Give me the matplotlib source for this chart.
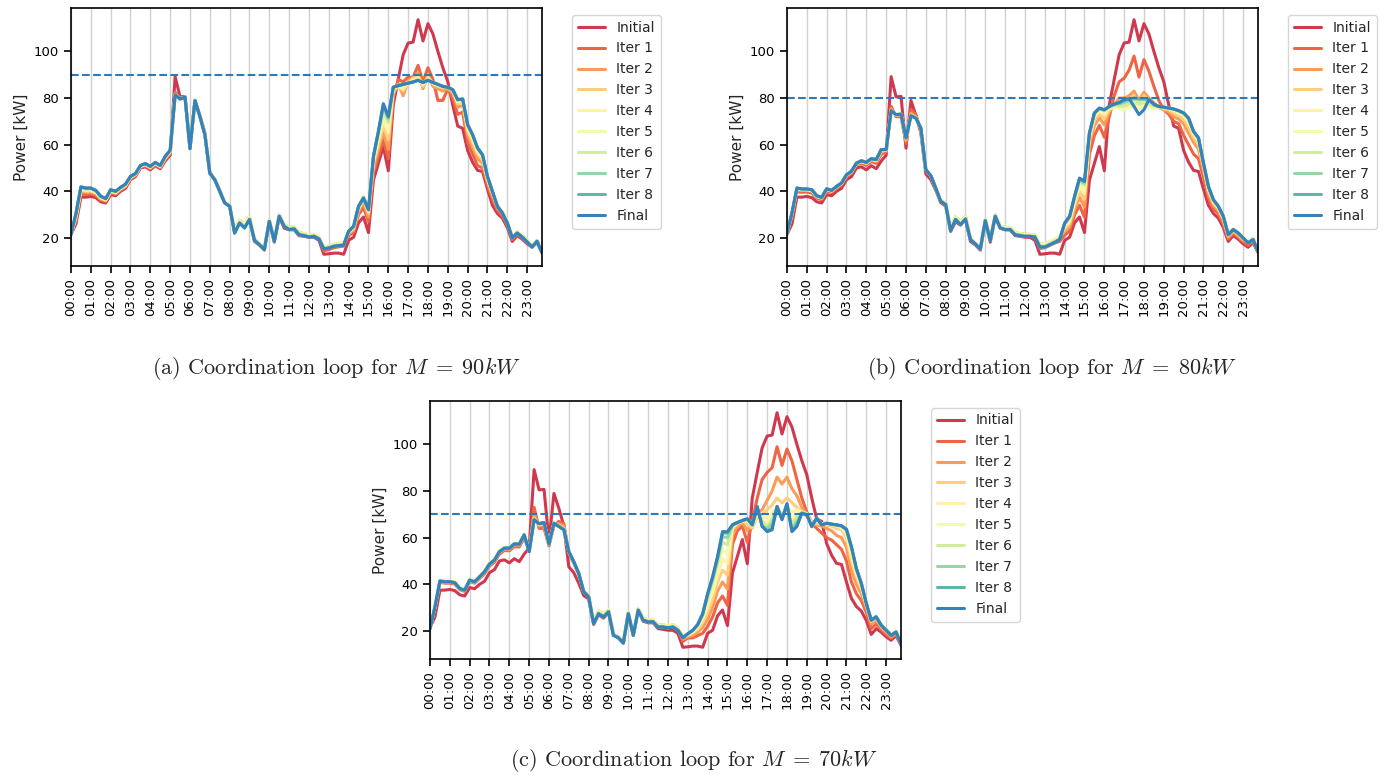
import numpy as np
import matplotlib.pyplot as plt
import seaborn as sns

sns.set_style("ticks")
plt.rcParams["font.family"] = ["DejaVu Sans"]
plt.rcParams["mathtext.fontset"] = "cm"

# 15-minute load profile before coordination (same for every limit)
initial = [
    21.5, 26, 37.5, 37.5, 37.8, 37.3, 35.5, 35, 38.6, 38.1, 40, 41.3, 45, 46.3, 50, 50.5, 49.2, 51, 49.7, 53, 55.5,
    89.2, 80.5, 80.7, 58.5, 79, 72.5, 65,
    47.5, 45, 40.5, 35.2, 33.7, 22.8, 27, 25.5, 28, 18.5, 17, 14.8, 27.3, 18.2, 29, 24.2, 23.5, 23.5, 21, 20.7, 20.3, 20.3, 19,
    13, 13.2, 13.5, 13.5, 13, 19, 20.3, 26.5, 29, 22.3, 44.8, 52, 59.2, 48.8,
    77, 88, 98.6, 103.6, 104, 113.6, 104.5, 111.9, 107.5, 100, 93, 87, 77, 68, 67, 57.5, 52.5, 49, 48.5, 41,
    34, 30.5, 28.5, 24.5, 18.5, 21, 19.5, 17.5,
    16, 18, 13.8,
]

# ---- M = 90 kW ----
final_90 = [
    21.5, 30.5, 41.9, 41.4, 41.4, 40.4, 37.9, 36.9, 40.7, 40, 41.7, 43.1, 46.4, 47.6, 51.1, 51.9, 50.7, 52.4, 51.1, 55, 57.6,
    81.4, 79.6, 80.4, 58.3, 78.9, 72.1, 64.3,
    47.9, 45, 40, 35, 33.6, 22.1, 26.4, 24.3, 27.9, 19, 17.1, 15, 27.1, 18.6, 29.3, 25, 23.6, 23.9, 21.4, 21, 20.4, 20.7, 19.6,
    15.3, 15.7, 16.4, 16.7, 16.9, 22.9, 25, 33.6, 37.1, 32.1, 55, 65.7, 77.6, 72.1,
    84.7, 85.3, 85.9, 86.4, 86.9, 87.6, 86.7, 87.6, 86.7, 85.9, 85, 84.6, 83.6, 79.3, 79.6, 68.6, 64.3, 58.6, 55.7, 46.4,
    40, 33.6, 30.7, 26.4, 20, 22.1, 20.4, 18.3,
    16.1, 18.6, 13.6,
]
iters_90 = [
    [21.5, 27.4, 38.8, 38.7, 38.9, 38.2, 36.2, 35.6, 39.2, 38.7, 40.5, 41.8, 45.4, 46.7, 50.3, 50.9, 49.6, 51.4, 50.1, 53.6, 56.1,
     82.5, 80, 80.5, 58.4, 79, 72.3, 64.7,
     47.9, 45, 40, 35.3, 33.9, 23.1, 27.6, 25.5, 28.9, 19.5, 17.4, 15.3, 27.6, 18.9, 29.8, 25.8, 24.4, 24.7, 22.2, 21.8, 21.2, 21.5, 20.4,
     14.5, 15, 15.8, 16.2, 16.5, 21, 22.5, 30, 33, 27, 48, 55, 62, 54,
     80, 88, 87, 89, 89, 94, 87, 93, 88, 79, 79, 84, 80, 73, 74, 61, 56, 51, 50, 42.5,
     36.5, 32, 29.5, 25.5, 19.3, 21.7, 20, 18,
     16.3, 18.8, 13.8],
    [21.5, 28.3, 39.7, 39.5, 39.6, 38.9, 36.7, 36, 39.7, 39.1, 40.9, 42.2, 45.7, 47, 50.6, 51.2, 50, 51.7, 50.4, 54, 56.6,
     81.8, 79.8, 80.4, 58.3, 78.9, 72.2, 64.5,
     47.9, 45, 40, 35.3, 33.9, 23.1, 27.6, 25.5, 28.9, 19.5, 17.4, 15.3, 27.6, 18.9, 29.8, 25.8, 24.4, 24.7, 22.2, 21.8, 21.2, 21.5, 20.4,
     16, 16.5, 17.2, 17.5, 17.7, 21.8, 23.3, 31.5, 35, 29, 50, 58, 65, 58,
     82, 86, 81, 87, 89, 91, 84, 90, 85, 84, 83, 84, 82, 76, 77, 64, 59, 54, 52, 44,
     38, 33, 30.5, 26.5, 20.2, 22.5, 20.8, 18.8,
     16.3, 18.8, 13.8],
    [21.5, 28.9, 40.4, 40, 40.1, 39.3, 37.1, 36.2, 40, 39.3, 41.1, 42.5, 45.9, 47.1, 50.7, 51.4, 50.2, 51.9, 50.6, 54.3, 56.9,
     81.4, 79.6, 80.4, 58.3, 78.9, 72.1, 64.3,
     47.9, 45, 40, 35.3, 33.9, 23.1, 27.6, 25.5, 28.9, 19.5, 17.4, 15.3, 27.6, 18.9, 29.8, 25.8, 24.4, 24.7, 22.2, 21.8, 21.2, 21.5, 20.4,
     16, 16.5, 17.2, 17.5, 17.7, 22.3, 24, 32.3, 36.5, 30.5, 52, 60, 68, 62,
     83, 85, 83, 86.5, 88.5, 89.5, 85, 89, 86, 85, 84.5, 84.5, 83, 77.5, 78, 66, 61, 56, 53.5, 45,
     39.5, 33.9, 31.2, 27, 20.5, 22.7, 21, 18.9,
     16.3, 18.8, 13.8],
    [21.5, 29.4, 40.8, 40.4, 40.5, 39.6, 37.3, 36.4, 40.2, 39.5, 41.3, 42.6, 46.1, 47.3, 50.8, 51.6, 50.3, 52, 50.8, 54.5, 57.1,
     81.4, 79.6, 80.4, 58.3, 78.9, 72.1, 64.3,
     47.9, 45, 40, 35.3, 33.9, 23.1, 27.6, 25.5, 28.9, 19.5, 17.4, 15.3, 27.6, 18.9, 29.8, 25.8, 24.4, 24.7, 22.2, 21.8, 21.2, 21.5, 20.4,
     16, 16.5, 17.2, 17.5, 17.7, 22.6, 24.5, 33, 37.5, 31.3, 53, 62, 70.5, 65,
     84, 85, 84, 86.3, 87.8, 88.7, 85.7, 88.5, 86.3, 85.5, 84.8, 84.6, 83.3, 78.3, 78.8, 67, 62.5, 57, 54.5, 45.7,
     39.5, 33.9, 31.2, 27, 20.5, 22.7, 21, 18.9,
     16.3, 18.8, 13.8],
    [21.5, 29.8, 41.2, 40.8, 40.9, 39.9, 37.5, 36.6, 40.4, 39.7, 41.4, 42.8, 46.2, 47.4, 50.9, 51.7, 50.5, 52.2, 50.9, 54.7, 57.3,
     81.4, 79.6, 80.4, 58.3, 78.9, 72.1, 64.3,
     47.9, 45, 40, 35.3, 33.9, 23.1, 27.6, 25.5, 28.9, 19.5, 17.4, 15.3, 27.6, 18.9, 29.8, 25.8, 24.4, 24.7, 22.2, 21.8, 21.2, 21.5, 20.4,
     16, 16.5, 17.2, 17.5, 17.7, 22.8, 24.8, 33.5, 37.8, 31.8, 54, 63.5, 72.5, 67.5,
     84.3, 85.2, 85, 86.3, 87.3, 88.2, 86.2, 88.1, 86.5, 85.7, 84.9, 84.6, 83.5, 78.8, 79.2, 67.8, 63.3, 57.8, 55, 46,
     39.5, 33.9, 31.2, 27, 20.5, 22.7, 21, 18.9,
     16.3, 18.8, 13.8],
    [21.5, 30, 41.5, 41, 41.1, 40.1, 37.7, 36.7, 40.5, 39.8, 41.5, 42.9, 46.3, 47.5, 51, 51.8, 50.6, 52.3, 51, 54.8, 57.4,
     81.4, 79.6, 80.4, 58.3, 78.9, 72.1, 64.3,
     47.9, 45, 40, 35.2, 33.8, 22.6, 27, 24.9, 28.4, 19.3, 17.3, 15.2, 27.4, 18.8, 29.6, 25.4, 24, 24.3, 21.8, 21.4, 20.8, 21.1, 20,
     15.7, 16.1, 16.8, 17.1, 17.3, 22.9, 25, 33.6, 37.6, 32, 54.5, 64.5, 74.5, 69.5,
     84.5, 85.3, 85.5, 86.4, 87, 87.9, 86.5, 87.8, 86.6, 85.8, 85, 84.6, 83.6, 79.1, 79.4, 68.2, 63.8, 58.2, 55.4, 46.2,
     39.8, 33.8, 31, 26.7, 20.3, 22.4, 20.7, 18.6,
     16.1, 18.6, 13.6],
    [21.5, 30.3, 41.7, 41.2, 41.2, 40.2, 37.8, 36.8, 40.6, 39.9, 41.6, 43, 46.4, 47.6, 51, 51.8, 50.6, 52.3, 51, 54.9, 57.5,
     81.4, 79.6, 80.4, 58.3, 78.9, 72.1, 64.3,
     47.9, 45, 40, 35, 33.6, 22.1, 26.4, 24.3, 27.9, 19, 17.1, 15, 27.1, 18.6, 29.3, 25, 23.6, 23.9, 21.4, 21, 20.4, 20.7, 19.6,
     15.3, 15.7, 16.4, 16.7, 16.9, 22.9, 25, 33.6, 37.3, 32.1, 54.8, 65.2, 76, 71,
     84.6, 85.3, 85.8, 86.4, 86.9, 87.7, 86.6, 87.7, 86.7, 85.9, 85, 84.6, 83.6, 79.3, 79.6, 68.5, 64.1, 58.5, 55.6, 46.4,
     40, 33.6, 30.7, 26.4, 20, 22.1, 20.4, 18.3,
     16.1, 18.6, 13.6],
    [21.5, 30.5, 41.9, 41.4, 41.4, 40.4, 37.9, 36.9, 40.7, 40, 41.7, 43.1, 46.4, 47.6, 51.1, 51.9, 50.7, 52.4, 51.1, 55, 57.6,
     81.4, 79.6, 80.4, 58.3, 78.9, 72.1, 64.3,
     47.9, 45, 40, 35, 33.6, 22.1, 26.4, 24.3, 27.9, 19, 17.1, 15, 27.1, 18.6, 29.3, 25, 23.6, 23.9, 21.4, 21, 20.4, 20.7, 19.6,
     15.3, 15.7, 16.4, 16.7, 16.9, 22.9, 25, 33.6, 37.1, 32.1, 55, 65.6, 77.2, 71.8,
     84.7, 85.3, 85.9, 86.4, 86.9, 87.6, 86.7, 87.6, 86.7, 85.9, 85, 84.6, 83.6, 79.3, 79.6, 68.6, 64.3, 58.6, 55.7, 46.4,
     40, 33.6, 30.7, 26.4, 20, 22.1, 20.4, 18.3,
     16.1, 18.6, 13.6],
]

# ---- M = 80 kW ----
final_80 = [
    22, 30.7, 41.4, 41, 41, 40.7, 38.1, 37.4, 41.1, 40.4, 42.1, 43.6, 47.1, 48.6, 52.1, 53.1, 52.4, 54, 53.6, 57.9, 57.9,
    74.6, 72.9, 73.1, 62.9, 72.4, 71.4, 67.1,
    49.3, 46.7, 41.4, 35.7, 34.3, 23.1, 27.9, 25.7, 28.1, 19.3, 17.4, 15.3, 27.4, 18.9, 29.3, 24.3, 23.6, 23.6, 21.4, 21, 20.7, 20.7, 20.4,
    16.1, 16.1, 17.1, 18.1, 19.3, 26.4, 29.3, 37.9, 45.7, 44.3, 65, 73.6, 75.7, 75,
    76.4, 77.4, 78.1, 79.3, 79.7, 76.4, 72.9, 75, 79.3, 77.4, 76.4, 76.1, 75.7, 75.3, 74.6, 73.6, 71.4, 65.7, 62.9, 52.1,
    42.1, 36.4, 33.6, 29.3, 21.4, 23.6, 22.1, 20,
    17.9, 19.3, 14.3,
]
iters_80 = [
    [21.8, 28.8, 39.8, 39.6, 39.7, 39.3, 37.1, 36.4, 40.1, 39.5, 41.3, 42.7, 46.3, 47.7, 51.3, 52.1, 51.1, 52.8, 52, 55.9, 56.9,
     76.5, 72, 72, 60.5, 75, 73, 66,
     49.3, 46.7, 41.4, 36, 34.6, 24.1, 29.1, 26.9, 29.1, 19.8, 17.7, 15.6, 27.9, 19.2, 29.8, 25.1, 24.4, 24.4, 22.2, 21.8, 21.5, 21.5, 21.2,
     15.5, 15.8, 16.8, 17.8, 18.5, 21.2, 23, 29.9, 34, 28.9, 55.9, 63.9, 68.3, 63.2,
     72, 81, 87, 88.5, 92, 98, 89, 96.5, 91.5, 85, 79, 75, 73, 70, 69, 64, 60, 56, 54, 46,
     37, 32.5, 30.5, 26, 19.5, 22, 20.3, 18.3,
     16.8, 18.5, 14],
    [21.9, 29.8, 40.6, 40.3, 40.4, 40, 37.6, 36.9, 40.6, 39.9, 41.7, 43.1, 46.7, 48.1, 51.7, 52.6, 51.8, 53.4, 52.8, 56.9, 57.4,
     75.3, 72.5, 72.8, 61.8, 73.5, 72, 66.5,
     49.3, 46.7, 41.4, 36, 34.6, 24.1, 29.1, 26.9, 29.1, 19.8, 17.7, 15.6, 27.9, 19.2, 29.8, 25.1, 24.4, 24.4, 22.2, 21.8, 21.5, 21.5, 21.2,
     17.3, 17.3, 18.3, 19.3, 20.5, 22.7, 24.8, 32.2, 37.4, 33.3, 60, 68.2, 71.6, 68.5,
     74, 77, 80, 80, 81, 83, 79, 82.5, 80, 78, 76, 75, 74, 72, 71, 69, 65, 61, 58, 49,
     39, 34, 31.7, 27.3, 20.3, 22.7, 21, 19,
     18.3, 19.7, 14.6],
    [22, 30.2, 41, 40.7, 40.7, 40.4, 37.8, 37.2, 40.9, 40.2, 41.9, 43.4, 46.9, 48.4, 51.9, 52.8, 52.1, 53.7, 53.2, 57.4, 57.7,
     74.9, 72.7, 73, 62.4, 72.8, 71.7, 66.8,
     49.3, 46.7, 41.4, 36, 34.6, 24.1, 29.1, 26.9, 29.1, 19.8, 17.7, 15.6, 27.9, 19.2, 29.8, 25.1, 24.4, 24.4, 22.2, 21.8, 21.5, 21.5, 21.2,
     17.3, 17.3, 18.3, 19.3, 20.5, 23.8, 26.2, 33.9, 39.9, 36.6, 62, 70.4, 73.2, 71.1,
     75, 76, 78, 78, 79, 81, 78, 81, 79, 77, 76, 75.5, 75, 73.5, 72.5, 71, 67.5, 63, 60, 50.5,
     40.3, 35, 32.5, 28.2, 20.9, 23.2, 21.5, 19.5,
     18.3, 19.7, 14.6],
    [22, 30.2, 41, 40.7, 40.7, 40.4, 37.8, 37.2, 40.9, 40.2, 41.9, 43.4, 46.9, 48.4, 51.9, 52.8, 52.1, 53.7, 53.2, 57.4, 57.7,
     74.6, 72.9, 73.1, 62.9, 72.4, 71.4, 67.1,
     49.3, 46.7, 41.4, 36, 34.6, 24.1, 29.1, 26.9, 29.1, 19.8, 17.7, 15.6, 27.9, 19.2, 29.8, 25.1, 24.4, 24.4, 22.2, 21.8, 21.5, 21.5, 21.2,
     17.3, 17.3, 18.3, 19.3, 20.5, 24.7, 27.2, 35.3, 41.9, 39.2, 63.4, 71.9, 74.4, 72.9,
     75.5, 76, 76, 76, 77, 78, 76, 78.5, 77, 76, 76, 75.8, 75.3, 74.5, 73.5, 72.5, 69.5, 64.5, 61.5, 51.5,
     41, 35.6, 33, 28.7, 21.5, 23.8, 22.3, 20.3,
     18.3, 19.7, 14.6],
    [22, 30.7, 41.4, 41, 41, 40.7, 38.1, 37.4, 41.1, 40.4, 42.1, 43.6, 47.1, 48.6, 52.1, 53.1, 52.4, 54, 53.6, 57.9, 57.9,
     74.6, 72.9, 73.1, 62.9, 72.4, 71.4, 67.1,
     49.3, 46.7, 41.4, 36, 34.6, 24.1, 29.1, 26.9, 29.1, 19.8, 17.7, 15.6, 27.9, 19.2, 29.8, 25.1, 24.4, 24.4, 22.2, 21.8, 21.5, 21.5, 21.2,
     17.3, 17.3, 18.3, 19.3, 20.5, 25.4, 28, 36.3, 43.4, 41.2, 64.2, 72.7, 75, 74,
     76, 76.5, 75.5, 75, 76, 76.5, 75.5, 76.5, 76, 75.5, 76, 76, 75.5, 75, 74, 73, 70.5, 65, 62, 52,
     41.5, 36, 33.3, 29, 21.7, 24, 22.5, 20.4,
     18.3, 19.7, 14.6],
    [22, 30.7, 41.4, 41, 41, 40.7, 38.1, 37.4, 41.1, 40.4, 42.1, 43.6, 47.1, 48.6, 52.1, 53.1, 52.4, 54, 53.6, 57.9, 57.9,
     74.6, 72.9, 73.1, 62.9, 72.4, 71.4, 67.1,
     49.3, 46.7, 41.4, 35.9, 34.5, 23.6, 28.5, 26.3, 28.6, 19.6, 17.6, 15.5, 27.7, 19.1, 29.6, 24.7, 24, 24, 21.8, 21.4, 21.1, 21.1, 20.8,
     16.7, 16.7, 17.7, 18.7, 19.9, 25.8, 28.6, 37, 44.4, 42.5, 64.6, 73.2, 75.4, 74.5,
     76, 77, 76.5, 76.5, 77.5, 78, 77.5, 78, 77.5, 76.5, 76.2, 76, 75.6, 75.2, 74.4, 73.4, 71, 65.5, 62.5, 52,
     41.8, 36.2, 33.5, 29.2, 21.6, 23.8, 22.3, 20.2,
     18.1, 19.5, 14.4],
    [22, 30.7, 41.4, 41, 41, 40.7, 38.1, 37.4, 41.1, 40.4, 42.1, 43.6, 47.1, 48.6, 52.1, 53.1, 52.4, 54, 53.6, 57.9, 57.9,
     74.6, 72.9, 73.1, 62.9, 72.4, 71.4, 67.1,
     49.3, 46.7, 41.4, 35.7, 34.3, 23.1, 27.9, 25.7, 28.1, 19.3, 17.4, 15.3, 27.4, 18.9, 29.3, 24.3, 23.6, 23.6, 21.4, 21, 20.7, 20.7, 20.4,
     16.1, 16.1, 17.1, 18.1, 19.3, 26.1, 28.9, 37.4, 45, 43.4, 64.8, 73.4, 75.5, 74.7,
     76.3, 77.2, 77.5, 78, 79, 79.5, 79.5, 79.5, 79, 77, 76.3, 76.1, 75.7, 75.3, 74.6, 73.6, 71.3, 65.7, 62.9, 52.1,
     42.1, 36.4, 33.6, 29.3, 21.4, 23.6, 22.1, 20,
     17.9, 19.3, 14.3],
    [22, 30.7, 41.4, 41, 41, 40.7, 38.1, 37.4, 41.1, 40.4, 42.1, 43.6, 47.1, 48.6, 52.1, 53.1, 52.4, 54, 53.6, 57.9, 57.9,
     74.6, 72.9, 73.1, 62.9, 72.4, 71.4, 67.1,
     49.3, 46.7, 41.4, 35.7, 34.3, 23.1, 27.9, 25.7, 28.1, 19.3, 17.4, 15.3, 27.4, 18.9, 29.3, 24.3, 23.6, 23.6, 21.4, 21, 20.7, 20.7, 20.4,
     16.1, 16.1, 17.1, 18.1, 19.3, 26.3, 29.2, 37.8, 45.5, 44.1, 65, 73.6, 75.7, 75,
     76.4, 77.4, 77.9, 79, 79.6, 80, 79.8, 79.6, 79.4, 77.3, 76.4, 76.1, 75.7, 75.3, 74.6, 73.6, 71.4, 65.7, 62.9, 52.1,
     42.1, 36.4, 33.6, 29.3, 21.4, 23.6, 22.1, 20,
     17.9, 19.3, 14.3],
]

# ---- M = 70 kW ----
final_70 = [
    21, 30.3, 41.4, 41.1, 41.1, 40.7, 38.2, 37.5, 41.8, 41.1, 43.2, 45.4, 48.7, 50.4, 54, 55.5, 55.5, 57.3, 57.2, 61.2, 54,
    67.7, 66, 66.5, 57.3, 66.2, 64.8, 63.4,
    54, 49.7, 44.7, 36.8, 34.6, 23.1, 27.4, 26, 28.2, 18.1, 17.1, 14.8, 27.4, 18.1, 28.9, 24.6, 23.9, 23.9, 21.7, 21.7, 21.3, 21.7, 20.3,
    17.1, 18.8, 20.3, 22.8, 27.4, 36, 43.2, 51.9, 62.6, 62.6, 65.5, 66.5, 67.4, 68.1,
    65.5, 73.4, 64.8, 62.6, 63.4, 73.4, 67.7, 74.6, 62.6, 64.8, 70.5, 69.8, 64.8, 68.4, 65.5, 66.2, 65.8, 65.5, 65.1, 63.6,
    56.2, 46.8, 40.4, 31.8, 24.6, 26, 22.4, 20.3,
    18.1, 19.5, 14.5,
]
iters_70 = [
    [21.2, 29.5, 40.8, 40.5, 40.5, 40.1, 37.7, 37, 41.2, 40.5, 42.5, 44.6, 47.8, 49.5, 53, 54.5, 54.4, 56.2, 56, 60, 54.5,
     73, 64, 64, 56.5, 65, 67, 66,
     53.2, 49, 44.2, 37.1, 34.9, 24.1, 28.6, 27.2, 29.2, 18.6, 17.4, 15.1, 27.9, 18.4, 29.4, 25.4, 24.7, 24.7, 22.5, 22.5, 22.1, 22.5, 21.1,
     15.5, 17, 17, 18, 19, 22, 26, 32, 35, 31, 57, 63, 65, 58,
     67, 77, 85, 88, 90, 99, 91, 98, 93, 85, 77, 71, 66, 64, 62, 60, 59, 57, 55, 50,
     41, 36, 33, 28, 21, 23, 20.5, 18.5,
     16.8, 18.6, 14],
    [21.1, 29.9, 41.1, 40.8, 40.8, 40.4, 37.9, 37.2, 41.5, 40.8, 42.8, 45, 48.3, 50, 53.6, 55, 55, 56.8, 56.7, 60.7, 54.2,
     70, 65, 65.5, 57, 65.5, 66, 65,
     54, 49.7, 44.7, 37.1, 34.9, 24.1, 28.6, 27.2, 29.2, 18.6, 17.4, 15.1, 27.9, 18.4, 29.4, 25.4, 24.7, 24.7, 22.5, 22.5, 22.1, 22.5, 21.1,
     16.5, 17.5, 18, 19.5, 21.5, 25, 30, 37, 41, 38, 61, 65, 66.5, 63,
     66, 71, 72, 76, 80, 86, 83, 86, 81, 78, 73, 70, 67, 65.5, 65, 64, 63, 61, 60, 56,
     46, 40, 36, 30, 23, 24.5, 21.5, 19.5,
     17.5, 19.2, 14.3],
    [21, 30.5, 41.7, 41.4, 41.4, 41, 38.5, 37.8, 42.1, 41.4, 43.5, 45.7, 49, 50.7, 54.3, 55.8, 55.8, 57.6, 57.5, 61.4, 54.2,
     68.5, 65.5, 66, 57.2, 66, 65.3, 64,
     54, 49.7, 44.7, 37.1, 34.9, 24.1, 28.6, 27.2, 29.2, 18.6, 17.4, 15.1, 27.9, 18.4, 29.4, 25.4, 24.7, 24.7, 22.5, 22.5, 22.1, 22.5, 21.1,
     17.5, 18, 19, 20.5, 23.5, 28, 33.5, 41, 46, 44, 63.5, 66, 67, 66,
     64, 69, 70, 72, 74, 77, 75, 77, 75, 73, 71, 69, 67, 66, 66, 65.5, 65, 64, 63.5, 60,
     50, 43, 38, 31, 24, 25.5, 22, 20,
     18.5, 19.9, 14.8],
    [21, 30.5, 41.7, 41.4, 41.4, 41, 38.5, 37.8, 42.1, 41.4, 43.5, 45.7, 49, 50.7, 54.3, 55.8, 55.8, 57.6, 57.5, 61.4, 54.2,
     67.7, 66, 66.5, 57.3, 66.2, 64.8, 63.4,
     54, 49.7, 44.7, 37.1, 34.9, 24.1, 28.6, 27.2, 29.2, 18.6, 17.4, 15.1, 27.9, 18.4, 29.4, 25.4, 24.7, 24.7, 22.5, 22.5, 22.1, 22.5, 21.1,
     17.8, 18.3, 19.5, 21.5, 25, 30.5, 36.5, 44, 51, 49, 64.5, 66.3, 67.2, 67,
     65, 70, 68, 69, 71, 73, 70, 74, 71, 72, 71, 70, 66, 67, 66, 66, 65.5, 65, 64, 61.5,
     52.5, 44.5, 39, 31.5, 24.5, 26, 22.4, 20.3,
     18.5, 19.9, 14.8],
    [21, 30.5, 41.7, 41.4, 41.4, 41, 38.5, 37.8, 42.1, 41.4, 43.5, 45.7, 49, 50.7, 54.3, 55.8, 55.8, 57.6, 57.5, 61.4, 54.2,
     67.7, 66, 66.5, 57.3, 66.2, 64.8, 63.4,
     54, 49.7, 44.7, 37.1, 34.9, 24.1, 28.6, 27.2, 29.2, 18.6, 17.4, 15.1, 27.9, 18.4, 29.4, 25.4, 24.7, 24.7, 22.5, 22.5, 22.1, 22.5, 21.1,
     17.8, 18.5, 20, 22, 26, 32.5, 39, 47, 55, 53, 65, 66.5, 67.4, 67.5,
     66, 71, 66, 67, 69, 72, 68, 74, 68, 70, 71, 70, 65, 67.5, 65.5, 66.5, 66, 65.3, 64.5, 62.5,
     54, 45.5, 39.8, 31.8, 24.8, 26.3, 22.7, 20.6,
     18.5, 19.9, 14.8],
    [21, 30.3, 41.4, 41.1, 41.1, 40.7, 38.2, 37.5, 41.8, 41.1, 43.2, 45.4, 48.7, 50.4, 54, 55.5, 55.5, 57.3, 57.2, 61.2, 54,
     67.7, 66, 66.5, 57.3, 66.2, 64.8, 63.4,
     54, 49.7, 44.7, 37, 34.8, 23.6, 28, 26.6, 28.7, 18.4, 17.3, 15, 27.7, 18.3, 29.2, 25, 24.3, 24.3, 22.1, 22.1, 21.7, 22.1, 20.7,
     17.5, 18.7, 20.2, 22.4, 26.7, 34, 41, 49, 58, 57, 65.3, 66.5, 67.4, 67.8,
     65, 72, 67, 65, 68, 73, 69, 73, 66, 69, 71, 70.5, 64.5, 68, 65.5, 66.3, 65.8, 65.4, 64.8, 63,
     55, 46.2, 40.2, 32, 24.9, 26.4, 22.8, 20.7,
     18.5, 19.9, 14.8],
    [21, 30.3, 41.4, 41.1, 41.1, 40.7, 38.2, 37.5, 41.8, 41.1, 43.2, 45.4, 48.7, 50.4, 54, 55.5, 55.5, 57.3, 57.2, 61.2, 54,
     67.7, 66, 66.5, 57.3, 66.2, 64.8, 63.4,
     54, 49.7, 44.7, 36.8, 34.6, 23.1, 27.4, 26, 28.2, 18.1, 17.1, 14.8, 27.4, 18.1, 28.9, 24.6, 23.9, 23.9, 21.7, 21.7, 21.3, 21.7, 20.3,
     17.2, 18.8, 20.3, 22.6, 27.1, 35, 42, 50.5, 60.5, 60, 65.5, 66.5, 67.4, 68,
     66, 73, 65, 64, 66, 73, 68, 74, 64, 67, 70.5, 70, 65, 68.4, 65.5, 66.2, 65.8, 65.5, 65, 63.4,
     55.8, 46.6, 40.4, 31.9, 24.7, 26.2, 22.6, 20.5,
     18.1, 19.5, 14.5],
    [21, 30.3, 41.4, 41.1, 41.1, 40.7, 38.2, 37.5, 41.8, 41.1, 43.2, 45.4, 48.7, 50.4, 54, 55.5, 55.5, 57.3, 57.2, 61.2, 54,
     67.7, 66, 66.5, 57.3, 66.2, 64.8, 63.4,
     54, 49.7, 44.7, 36.8, 34.6, 23.1, 27.4, 26, 28.2, 18.1, 17.1, 14.8, 27.4, 18.1, 28.9, 24.6, 23.9, 23.9, 21.7, 21.7, 21.3, 21.7, 20.3,
     17.1, 18.8, 20.3, 22.7, 27.3, 35.8, 43, 51.5, 62, 62, 65.5, 66.5, 67.4, 68.1,
     65.5, 73, 65, 63, 64, 73.4, 68, 74.5, 63, 65.5, 70.5, 69.8, 64.8, 68.4, 65.5, 66.2, 65.8, 65.5, 65.1, 63.6,
     56.1, 46.8, 40.4, 31.8, 24.6, 26, 22.4, 20.3,
     18.1, 19.5, 14.5],
]

limits = [90, 80, 70]
captions = [r"(a) Coordination loop for $M\;=\;90kW$",
            r"(b) Coordination loop for $M\;=\;80kW$",
            r"(c) Coordination loop for $M\;=\;70kW$"]
labels = ["Initial"] + [f"Iter {k}" for k in range(1, 9)] + ["Final"]
hour_labels = [f"{h:02d}:00" for h in range(24)]
colors = sns.color_palette("Spectral", 10)

W, H = 1387, 777
fig = plt.figure(figsize=(W / 100, H / 100), dpi=100)


def panel(left, top, width=471, height=258):
    return fig.add_axes([left / W, 1 - (top + height) / H, width / W, height / H])


axes = [panel(71, 8), panel(787, 8), panel(430, 401)]
finals = [final_90, final_80, final_70]
iters = [iters_90, iters_80, iters_70]

for ax, fin, its, m in zip(axes, finals, iters, limits):
    series = [initial] + its + [fin]
    for s in series:
        if len(s) != 96:
            raise ValueError(len(s))
    x = np.arange(96)
    for s, c, lab in zip(series, colors, labels):
        ax.plot(x, s, color=c, lw=2.2, label=lab)
    ax.axhline(m, color="#2b7bba", ls="--", lw=1.5)
    ax.set_xlim(0, 95)
    ax.set_xticks(np.arange(0, 96, 4))
    ax.set_xticklabels(hour_labels, rotation=90)
    ax.set_yticks([20, 40, 60, 80, 100])
    ax.grid(axis="x", color=".82", lw=1)
    ax.set_axisbelow(True)
    ax.tick_params(labelsize=9.5, length=5, width=1.2, colors="black")
    ax.set_ylabel("Power [kW]", fontsize=11)
    for sp in ax.spines.values():
        sp.set_linewidth(1.2)
        sp.set_color("black")
    ax.legend(loc="upper left", bbox_to_anchor=(1.049, 1.0), fontsize=10)

fig.text(336 / W, 1 - 368 / H, captions[0], ha="center", va="center",
         fontsize=16, family="cmr10")
fig.text(1052 / W, 1 - 368 / H, captions[1], ha="center", va="center",
         fontsize=16, family="cmr10")
fig.text(694 / W, 1 - 761 / H, captions[2], ha="center", va="center",
         fontsize=16, family="cmr10")

fig.savefig("out.png", dpi=100)
